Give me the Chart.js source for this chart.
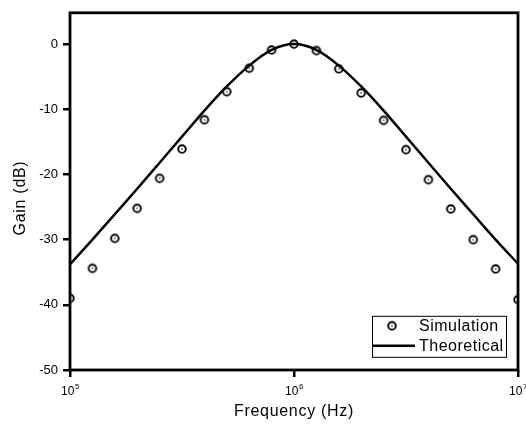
<!DOCTYPE html>
<html>
<head>
<meta charset="utf-8">
<script src="https://cdn.jsdelivr.net/npm/chart.js@4/dist/chart.umd.min.js"></script>
<style>
  html, body { margin: 0; padding: 0; background: #fff; }
  #wrap { width: 526px; height: 426px; }
</style>
</head>
<body>
<div id="wrap"><canvas id="c" width="526" height="426"></canvas></div>
<script>
// ---- data ----
const freqHz = [1.0e5, 1.259e5, 1.585e5, 1.995e5, 2.512e5, 3.162e5, 3.981e5, 5.012e5, 6.310e5, 7.943e5,
                1.0e6, 1.259e6, 1.585e6, 1.995e6, 2.512e6, 3.162e6, 3.981e6, 5.012e6, 6.310e6, 7.943e6, 1.0e7];
const simulationGain = [-39.0, -34.4, -29.8, -25.2, -20.6, -16.1, -11.6, -7.3, -3.7, -0.9,
                        0.0, -1.0, -3.8, -7.5, -11.7, -16.2, -20.8, -25.3, -30.0, -34.5, -39.2];
const theoreticalGain = [-33.8, -30.0, -26.1, -22.2, -18.2, -14.2, -10.2, -6.5, -3.3, -0.9,
                         0.0, -0.9, -3.3, -6.5, -10.2, -14.2, -18.2, -22.2, -26.1, -30.0, -33.7];
const seriesNames = ['Simulation', 'Theoretical'];
const xTicks = [1e5, 1e6, 1e7];
const xTickBase = ['10', '10', '10'];
const xTickExp = ['5', '6', '7'];
const yTicks = [-50, -40, -30, -20, -10, 0];
const xTitle = 'Frequency (Hz)';
const yTitle = 'Gain (dB)';

const FONT = "'Liberation Sans', Arial, sans-serif";

// circle-with-dot marker
function makeMarker() {
  const c = document.createElement('canvas');
  c.width = 12; c.height = 12;
  const g = c.getContext('2d');
  g.strokeStyle = '#000';
  g.lineWidth = 1.9;
  g.beginPath(); g.arc(6, 6, 3.8, 0, Math.PI * 2); g.stroke();
  g.fillStyle = '#000';
  g.beginPath(); g.arc(6, 6, 0.8, 0, Math.PI * 2); g.fill();
  return c;
}
const marker = makeMarker();

const simData = freqHz.map((f, i) => ({ x: f, y: simulationGain[i] }));
const theoData = freqHz.map((f, i) => ({ x: f, y: theoreticalGain[i] }));

const decorPlugin = {
  id: 'decor',
  afterDatasetsDraw(chart) {
    const { ctx, chartArea: a, scales } = chart;
    ctx.save();
    // frame
    ctx.strokeStyle = '#000';
    ctx.lineWidth = 2.8;
    ctx.strokeRect(a.left, a.top, a.right - a.left, a.bottom - a.top);

    // x tick labels with superscript exponent
    ctx.fillStyle = '#000';
    ctx.textBaseline = 'alphabetic';
    xTicks.forEach((v, i) => {
      const px = scales.x.getPixelForValue(v);
      ctx.font = '12px ' + FONT;
      const wb = ctx.measureText(xTickBase[i]).width;
      ctx.font = '8px ' + FONT;
      const we = ctx.measureText(xTickExp[i]).width;
      const start = px - (wb + we) / 2;
      ctx.font = '12px ' + FONT;
      ctx.textAlign = 'left';
      ctx.fillText(xTickBase[i], start, 395);
      ctx.font = '8px ' + FONT;
      ctx.fillText(xTickExp[i], start + wb + 0.5, 389);
    });

    // axis titles
    ctx.font = '16px ' + FONT;
    ctx.letterSpacing = '0.7px';
    ctx.textAlign = 'center';
    ctx.textBaseline = 'middle';
    ctx.fillText(xTitle, (a.left + a.right) / 2, 412);
    ctx.save();
    ctx.translate(21, 198);
    ctx.rotate(-Math.PI / 2);
    ctx.fillText(yTitle, 0, 0);
    ctx.restore();

    // legend box
    const bx = a.right - 146, by = a.top + 303, bw = 134, bh = 41;
    ctx.lineWidth = 1;
    ctx.strokeStyle = '#000';
    ctx.fillStyle = '#fff';
    ctx.fillRect(bx, by, bw, bh);
    ctx.strokeRect(bx + 0.5, by + 0.5, bw, bh);
    ctx.fillStyle = '#000';
    ctx.drawImage(marker, bx + 20 - 6, by + 10 - 6);
    ctx.lineWidth = 2.5;
    ctx.beginPath();
    ctx.moveTo(bx + 1, by + 30);
    ctx.lineTo(bx + 43, by + 30);
    ctx.stroke();
    ctx.font = '16px ' + FONT;
    ctx.letterSpacing = '0.5px';
    ctx.textAlign = 'left';
    ctx.textBaseline = 'middle';
    ctx.fillText(seriesNames[0], bx + 47, by + 11);
    ctx.fillText(seriesNames[1], bx + 47, by + 31);
    ctx.restore();
  }
};

new Chart(document.getElementById('c'), {
  type: 'scatter',
  data: {
    datasets: [
      {
        label: seriesNames[0],
        data: simData,
        showLine: false,
        pointStyle: marker,
        pointRadius: 5,
        clip: 0
      },
      {
        label: seriesNames[1],
        data: theoData,
        showLine: true,
        borderColor: '#000',
        borderWidth: 2.5,
        pointRadius: 0,
        cubicInterpolationMode: 'monotone',
        clip: 0
      }
    ]
  },
  options: {
    responsive: false,
    animation: false,
    events: [],
    layout: { padding: { top: 12, right: 8, left: 0, bottom: 0 } },
    plugins: { legend: { display: false }, tooltip: { enabled: false } },
    scales: {
      x: {
        type: 'logarithmic',
        min: 1e5,
        max: 1e7,
        afterBuildTicks: s => { s.ticks = xTicks.map(v => ({ value: v })); },
        afterFit: s => { s.height = 56; },
        ticks: { display: false },
        grid: { drawOnChartArea: false, drawTicks: true, tickLength: 7, lineWidth: 2.5, color: '#000' },
        border: { display: false },
        title: { display: false }
      },
      y: {
        type: 'linear',
        min: -50,
        max: 4.8,
        afterBuildTicks: s => { s.ticks = yTicks.map(v => ({ value: v })); },
        afterFit: s => { s.width = 70; },
        ticks: { color: '#000', font: { family: FONT, size: 13 }, padding: 5 },
        grid: { drawOnChartArea: false, drawTicks: true, tickLength: 7, lineWidth: 2.5, color: '#000' },
        border: { display: false },
        title: { display: false }
      }
    }
  },
  plugins: [decorPlugin]
});
</script>
</body>
</html>
